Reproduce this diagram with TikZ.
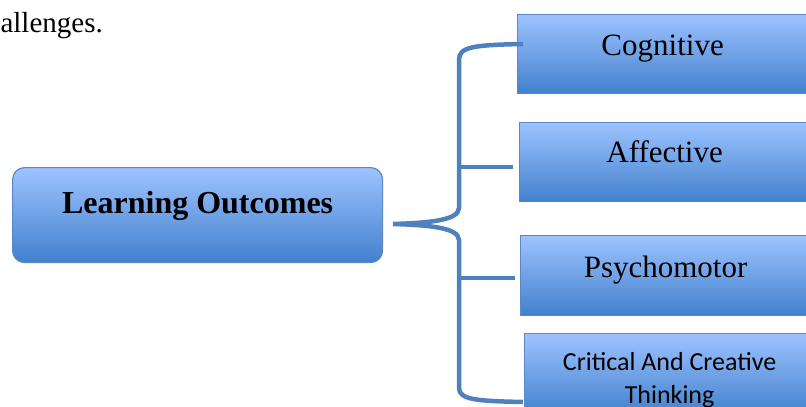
\documentclass[tikz,border=0pt]{standalone}
\usepackage{fontspec}
\setmainfont{Liberation Serif}
\newfontfamily\calibri{Carlito}
\definecolor{boxtop}{RGB}{157,195,255}
\definecolor{boxbot}{RGB}{66,128,205}
\definecolor{boxline}{RGB}{90,136,196}
\definecolor{bracecol}{RGB}{79,129,189}
\begin{document}
\begin{tikzpicture}[x=1pt,y=-1pt,
  box/.style={draw=boxline, line width=1.2pt, top color=boxtop, bottom color=boxbot,
    inner sep=0pt, anchor=north west, minimum width=290pt, font=\fontsize{31}{36}\selectfont},
  bracelink/.style={draw=bracecol, line width=4.5pt}]
\useasboundingbox (0,0) rectangle (806,407);
\node[anchor=base east, inner sep=0pt, font=\fontsize{29}{34}\selectfont] (prev) at (103,32) {allenges.};
\node[box, rounded corners=12pt, minimum width=370pt, text height=46pt, text depth=49pt,
  font=\fontsize{32}{37}\selectfont\bfseries] (lo) at (12,167) {Learning Outcomes};
\node[box, text height=41pt, text depth=38pt] (cog) at (517,14) {Cognitive};
\node[box, text height=40pt, text depth=39pt] (aff) at (519,122) {Affective};
\node[box, text height=42pt, text depth=38pt] (psy) at (520,235) {Psychomotor};
\node[box, text height=37pt, text depth=45pt, font=\calibri\fontsize{26}{33}\selectfont] (cct) at (524,333)
  {\begin{tabular}[t]{@{}c@{}}Critical And Creative\\Thinking\end{tabular}};
% brace
\coordinate (tip) at (393,224);
\coordinate (btop) at (523,44);
\coordinate (bbot) at (523,402);
\coordinate (baff) at (513,167);
\coordinate (bpsy) at (515,278);
\draw[bracelink] (btop) .. controls (472,45) and (459,47) .. (459,60)
  -- (459,208) .. controls (459,221) and (425,223) .. (tip)
  .. controls (425,225) and (459,227) .. (459,240)
  -- (459,388) .. controls (459,400) and (478,401) .. (bbot);
\draw[bracelink] (459,167) -- (baff);
\draw[bracelink] (459,278) -- (bpsy);
\end{tikzpicture}
\end{document}
